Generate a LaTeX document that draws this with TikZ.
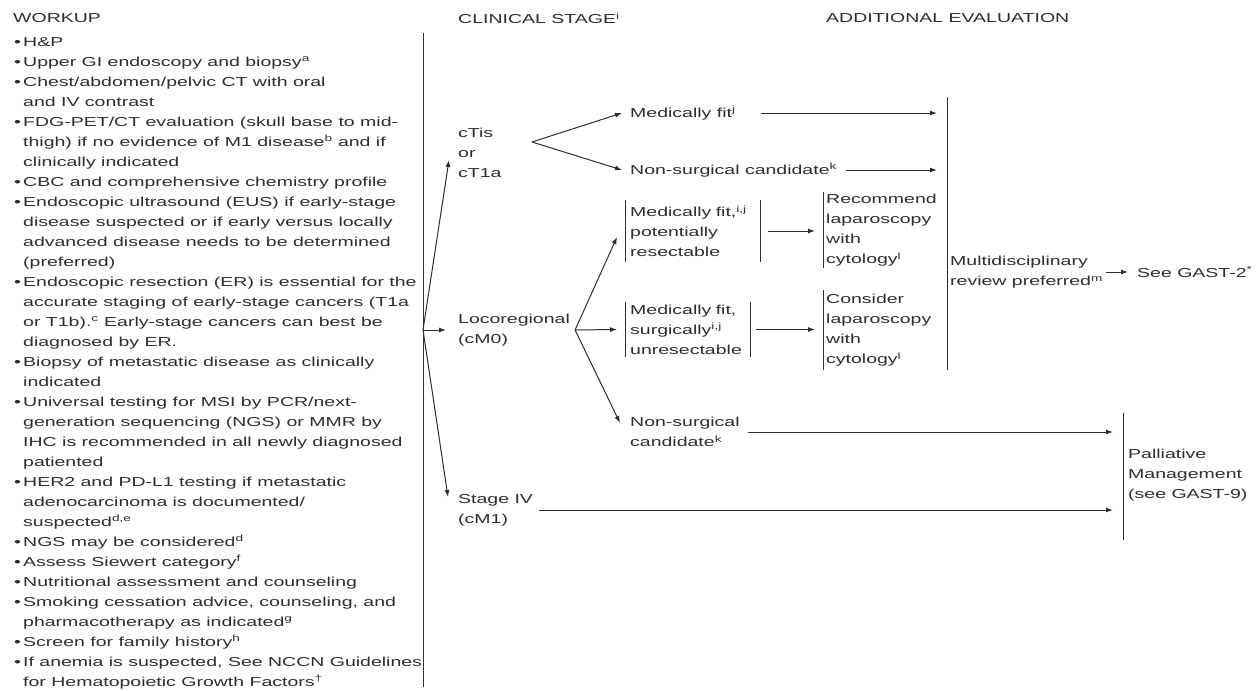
\documentclass[tikz,border=0pt]{standalone}
\usepackage{fontspec}
\setmainfont{Liberation Sans}[FakeStretch=1.5]
\usetikzlibrary{arrows.meta}
\definecolor{ink}{gray}{0.18}
\newcommand{\dfont}{\fontsize{13}{20}\selectfont}
\newcommand{\bu}{\makebox[9pt][l]{•}}
\newcommand{\ind}{\hspace*{9pt}}
\newcommand{\sy}[1]{\textsuperscript{#1}}
\begin{document}
\begin{tikzpicture}[x=1pt,y=-1pt,
  lbl/.style={font=\dfont, text=ink, inner sep=0pt, align=left, anchor=west},
  boxed/.style={lbl, inner xsep=5pt, minimum height=#1},
  boxed/.default=60pt,
  con/.style={draw=ink, line width=1pt, -{Latex[length=7pt,width=5pt]}},
  bar/.style={draw=ink, line width=1pt}]
\useasboundingbox[fill=white] (0,0) rectangle (1259,691);

% headers
\node[lbl] (hwork) at (13,18) {WORKUP};
\node[lbl] (hstage) at (458,18) {CLINICAL STAGE\sy{i}};
\node[lbl] (hadd) at (826,18) {ADDITIONAL EVALUATION};

% workup list
\node[lbl] (workup) at (14,363) {%
\bu H\&P\\
\bu Upper GI endoscopy and biopsy\sy{a}\\
\bu Chest/abdomen/pelvic CT with oral\\
\ind and IV contrast\\
\bu FDG-PET/CT evaluation (skull base to mid-\\
\ind thigh) if no evidence of M1 disease\sy{b} and if\\
\ind clinically indicated\\
\bu CBC and comprehensive chemistry profile\\
\bu Endoscopic ultrasound (EUS) if early-stage\\
\ind disease suspected or if early versus locally\\
\ind advanced disease needs to be determined\\
\ind (preferred)\\
\bu Endoscopic resection (ER) is essential for the\\
\ind accurate staging of early-stage cancers (T1a\\
\ind or T1b).\sy{c} Early-stage cancers can best be\\
\ind diagnosed by ER.\\
\bu Biopsy of metastatic disease as clinically\\
\ind indicated\\
\bu Universal testing for MSI by PCR/next-\\
\ind generation sequencing (NGS) or MMR by\\
\ind IHC is recommended in all newly diagnosed\\
\ind patiented\\
\bu HER2 and PD-L1 testing if metastatic\\
\ind adenocarcinoma is documented/\\
\ind suspected\sy{d,e}\\
\bu NGS may be considered\sy{d}\\
\bu Assess Siewert category\sy{f}\\
\bu Nutritional assessment and counseling\\
\bu Smoking cessation advice, counseling, and\\
\ind pharmacotherapy as indicated\sy{g}\\
\bu Screen for family history\sy{h}\\
\bu If anemia is suspected, See NCCN Guidelines\\
\ind for Hematopoietic Growth Factors\sy{†}};

% divider
\coordinate (divtop) at (423,33);
\coordinate (divbot) at (423,687);
\coordinate (fan) at (423,330);
\draw[bar] (divtop) -- (divbot);

% clinical stage
\node[lbl] (cTis) at (458,153) {cTis\\or\\cT1a};
\node[lbl] (loco) at (458,330) {Locoregional\\(cM0)};
\node[lbl] (stage4) at (458,510) {Stage IV\\(cM1)};
\draw[con] (fan) -- ([xshift=-9pt,yshift=-7pt]cTis.west);
\draw[con] (fan) -- ([xshift=-12pt]loco.west);
\draw[con] (fan) -- ([xshift=-10pt,yshift=13pt]stage4.west);

% cTis branch
\coordinate (b1) at (532,142);
\node[lbl] (mfit) at (630,113) {Medically fit\sy{j}};
\node[lbl] (nsc1) at (630,170) {Non-surgical candidate\sy{k}};
\draw[con] (b1) -- ([xshift=-8pt]mfit.west);
\draw[con] (b1) -- ([xshift=-8pt]nsc1.west);

% locoregional branch
\coordinate (b2) at ([xshift=5pt]loco.east);
\node[boxed=62pt, text width=125pt] (box1) at (625,231)
  {Medically fit,\sy{i,j}\\potentially\\resectable};
\node[boxed=55pt, text width=115pt] (box2) at (625,329.5)
  {Medically fit,\\surgically\sy{i,j}\\unresectable};
\node[lbl] (nsc2) at (630,432) {Non-surgical\\candidate\sy{k}};
\draw[bar] (box1.north west) -- (box1.south west);
\draw[bar] (box1.north east) -- (box1.south east);
\draw[bar] (box2.north west) -- (box2.south west);
\draw[bar] (box2.north east) -- (box2.south east);
\draw[con] (b2) -- ([xshift=-8pt,yshift=-6pt]box1.west);
\draw[con] (b2) -- ([xshift=-8pt]box2.west);
\draw[con] (b2) -- ([xshift=-10pt,yshift=9pt]nsc2.west);

% laparoscopy boxes
\node[boxed=76pt, inner xsep=3pt] (rec) at (823,230)
  {Recommend\\laparoscopy\\with\\cytology\sy{l}};
\node[boxed=80pt, inner xsep=3pt] (cons) at (823,330)
  {Consider\\laparoscopy\\with\\cytology\sy{l}};
\draw[bar] (rec.north west) -- (rec.south west);
\draw[bar] (cons.north west) -- (cons.south west);
\draw[con] ([xshift=8pt]box1.east) -- ([xshift=-8pt]box1.east -| rec.west);
\draw[con] ([xshift=6pt]box2.east) -- ([xshift=-8pt]box2.east -| cons.west);

% multidisciplinary review
\coordinate (mtop) at (947,97);
\coordinate (mbot) at (947,370);
\coordinate (mx) at (937,0);
\draw[bar] (mtop) -- (mbot);
\draw[con] ([xshift=25pt]mfit.east) -- (mfit.east -| mx);
\draw[con] ([xshift=9pt]nsc1.east) -- (nsc1.east -| mx);
\node[lbl] (multi) at (950,272) {Multidisciplinary\\review preferred\sy{m}};
\node[lbl] (see) at (1137,272) {See GAST-2\sy{*}};
\draw[con] ([xshift=3pt]multi.east) -- ([xshift=-9pt]see.west);

% palliative
\coordinate (ptop) at (1123,413);
\coordinate (pbot) at (1123,540);
\coordinate (px) at (1113,0);
\draw[bar] (ptop) -- (pbot);
\node[lbl] (pall) at (1128,475) {Palliative\\Management\\(see GAST-9)};
\draw[con] ([xshift=8pt]nsc2.east) -- (nsc2.east -| px);
\draw[con] ([xshift=6pt]stage4.east) -- (stage4.east -| px);
\end{tikzpicture}
\end{document}
